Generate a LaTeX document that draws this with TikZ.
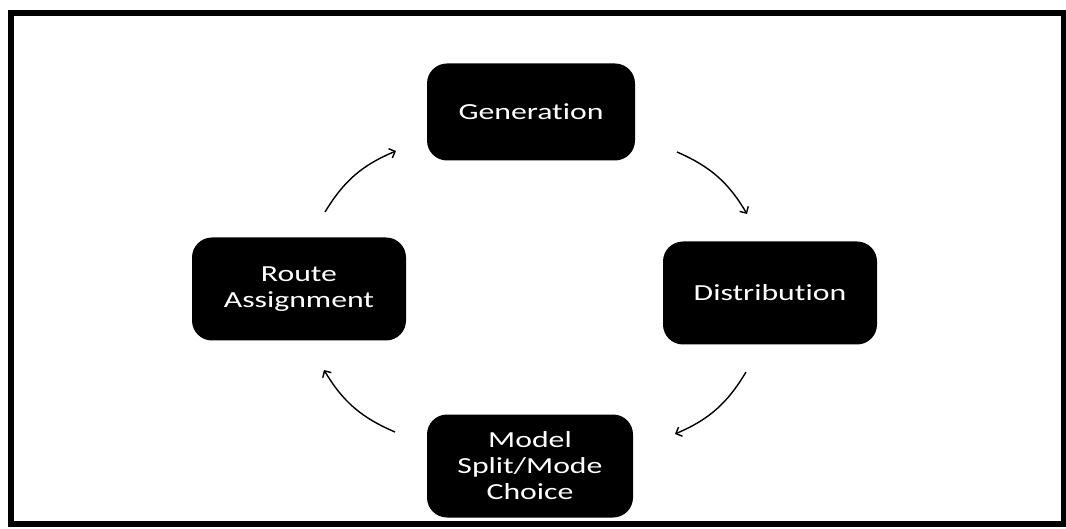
\documentclass[tikz,border=0pt]{standalone}
\usepackage{fontspec}
\setmainfont{Carlito}[FakeStretch=1.38, Ligatures={NoCommon}]
\usetikzlibrary{arrows.meta}
\begin{document}
\begin{tikzpicture}[x=1pt,y=-1pt,
  stage/.style={fill=black, rounded corners=20pt, text=white, align=center,
    font=\fontsize{23}{26}\selectfont, inner sep=0pt},
  flow/.style={line width=1.4pt, -{Straight Barb[length=5pt,width=10pt]}, bend left=18}]
\useasboundingbox (0,0) rectangle (1066,529);
\draw[line width=6pt] (11,13.5) rectangle (1064,524);
\node[stage, minimum width=208pt, minimum height=97pt] (gen) at (531,112) {Generation};
\node[stage, minimum width=214pt, minimum height=103pt] (dist) at (770,293) {Distribution};
\node[stage, minimum width=206pt, minimum height=103pt] (mode) at (530,466) {Model\\Split/Mode\\Choice};
\node[stage, minimum width=214pt, minimum height=103pt] (route) at (299,289) {Route\\Assignment};
\coordinate (a1s) at (325,212); \coordinate (a1e) at (396,151);
\coordinate (a2s) at (677,152); \coordinate (a2e) at (747,214);
\coordinate (a3s) at (746,372); \coordinate (a3e) at (675,434);
\coordinate (a4s) at (395,432); \coordinate (a4e) at (324,370);
\draw[flow] (a1s) to (a1e);
\draw[flow] (a2s) to (a2e);
\draw[flow] (a3s) to (a3e);
\draw[flow] (a4s) to (a4e);
\end{tikzpicture}
\end{document}
